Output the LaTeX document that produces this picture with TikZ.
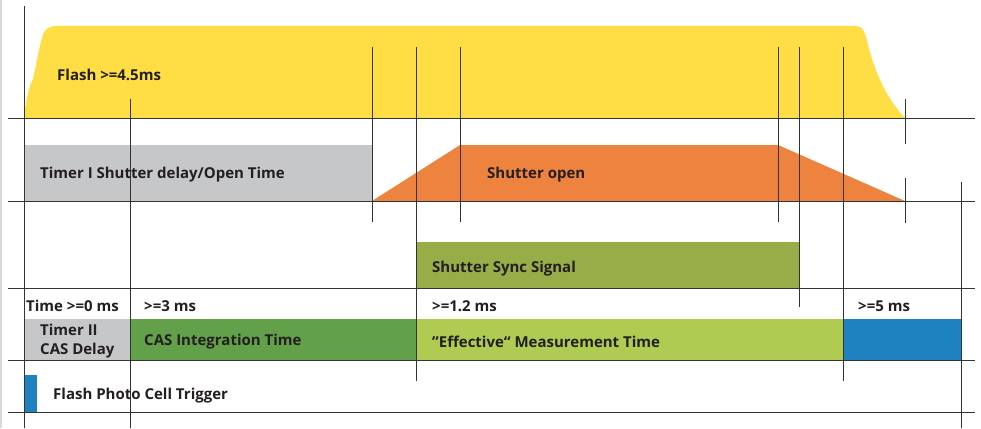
\documentclass[tikz,border=0pt]{standalone}
\usepackage{fontspec}
\setmainfont{Open Sans}
\definecolor{flashY}{HTML}{FEDD45}
\definecolor{timerG}{HTML}{C6C7C9}
\definecolor{shutO}{HTML}{EE8340}
\definecolor{syncG}{HTML}{97AE48}
\definecolor{casG}{HTML}{63A04A}
\definecolor{effG}{HTML}{B0CB52}
\definecolor{trigB}{HTML}{1F82C0}
\definecolor{txt}{HTML}{231F20}
\begin{document}
\begin{tikzpicture}[x=1pt,y=-1pt,
  grid/.style={draw=black!80,line width=1pt},
  lbl/.style={anchor=west,inner sep=0pt,text=txt,font=\fontsize{15}{18.5}\selectfont\bfseries}]
\useasboundingbox (0,0) rectangle (981,428);
\fill[white] (0,0) rectangle (981,428);
\draw[black!15,line width=2.5pt] (1.2,0) -- (1.2,428);
% fills
\fill[flashY] (24,118) .. controls (26,100) and (29,86) .. (33,79)
  .. controls (36,66) and (39,48) .. (42,38)
  .. controls (44,30) and (48,26) .. (56,26) -- (857,26)
  .. controls (863,26) and (866,35) .. (868,45)
  .. controls (876,76) and (888,100) .. (905,118) -- cycle;
\fill[timerG] (24,145) rectangle (372,201);
\fill[shutO] (372,201) -- (460,145) -- (778,145) -- (905,201) -- cycle;
\fill[syncG] (416,242) rectangle (799,288);
\fill[timerG] (24,319) rectangle (130,360);
\fill[casG] (130,319) rectangle (416,360);
\fill[effG] (416,319) rectangle (843,360);
\fill[trigB] (843,319) rectangle (961,360);
\fill[trigB] (24,375) rectangle (37,412);
% horizontal lines
\foreach \yy in {118,201,288,360,412}
  \draw[grid] (8,\yy) -- (975,\yy);
% vertical lines
\draw[grid] (24,6) -- (24,428);
\draw[grid] (130,99) -- (130,428);
\draw[grid] (372,47) -- (372,222);
\draw[grid] (416,47) -- (416,381);
\draw[grid] (460,47) -- (460,222);
\draw[grid] (778,47) -- (778,222);
\draw[grid] (799,47) -- (799,307);
\draw[grid] (843,47) -- (843,381);
\draw[grid] (905,99) -- (905,144);
\draw[grid] (905,178) -- (905,223);
\draw[grid] (961,182) -- (961,428);
% labels
\node[lbl] (flash) at (57,75) {Flash >=4.5ms};
\node[lbl] (timer1) at (40,175) {Timer I Shutter delay/Open Time};
\node[lbl] (shopen) at (487,175) {Shutter open};
\node[lbl] (sync) at (432,269) {Shutter Sync Signal};
\node[lbl] (t0) at (26,306) {Time >=0 ms};
\node[lbl] (t3) at (144,306) {>=3 ms};
\node[lbl] (t12) at (432,306) {>=1.2 ms};
\node[lbl] (t5) at (858,306) {>=5 ms};
\node[lbl,align=left] (timer2) at (40,341) {Timer II\\CAS Delay};
\node[lbl] (cas) at (144,342) {CAS Integration Time};
\node[lbl] (eff) at (432,342) {”Effective“ Measurement Time};
\node[lbl] (trig) at (53,396) {Flash Photo Cell Trigger};
\end{tikzpicture}
\end{document}
